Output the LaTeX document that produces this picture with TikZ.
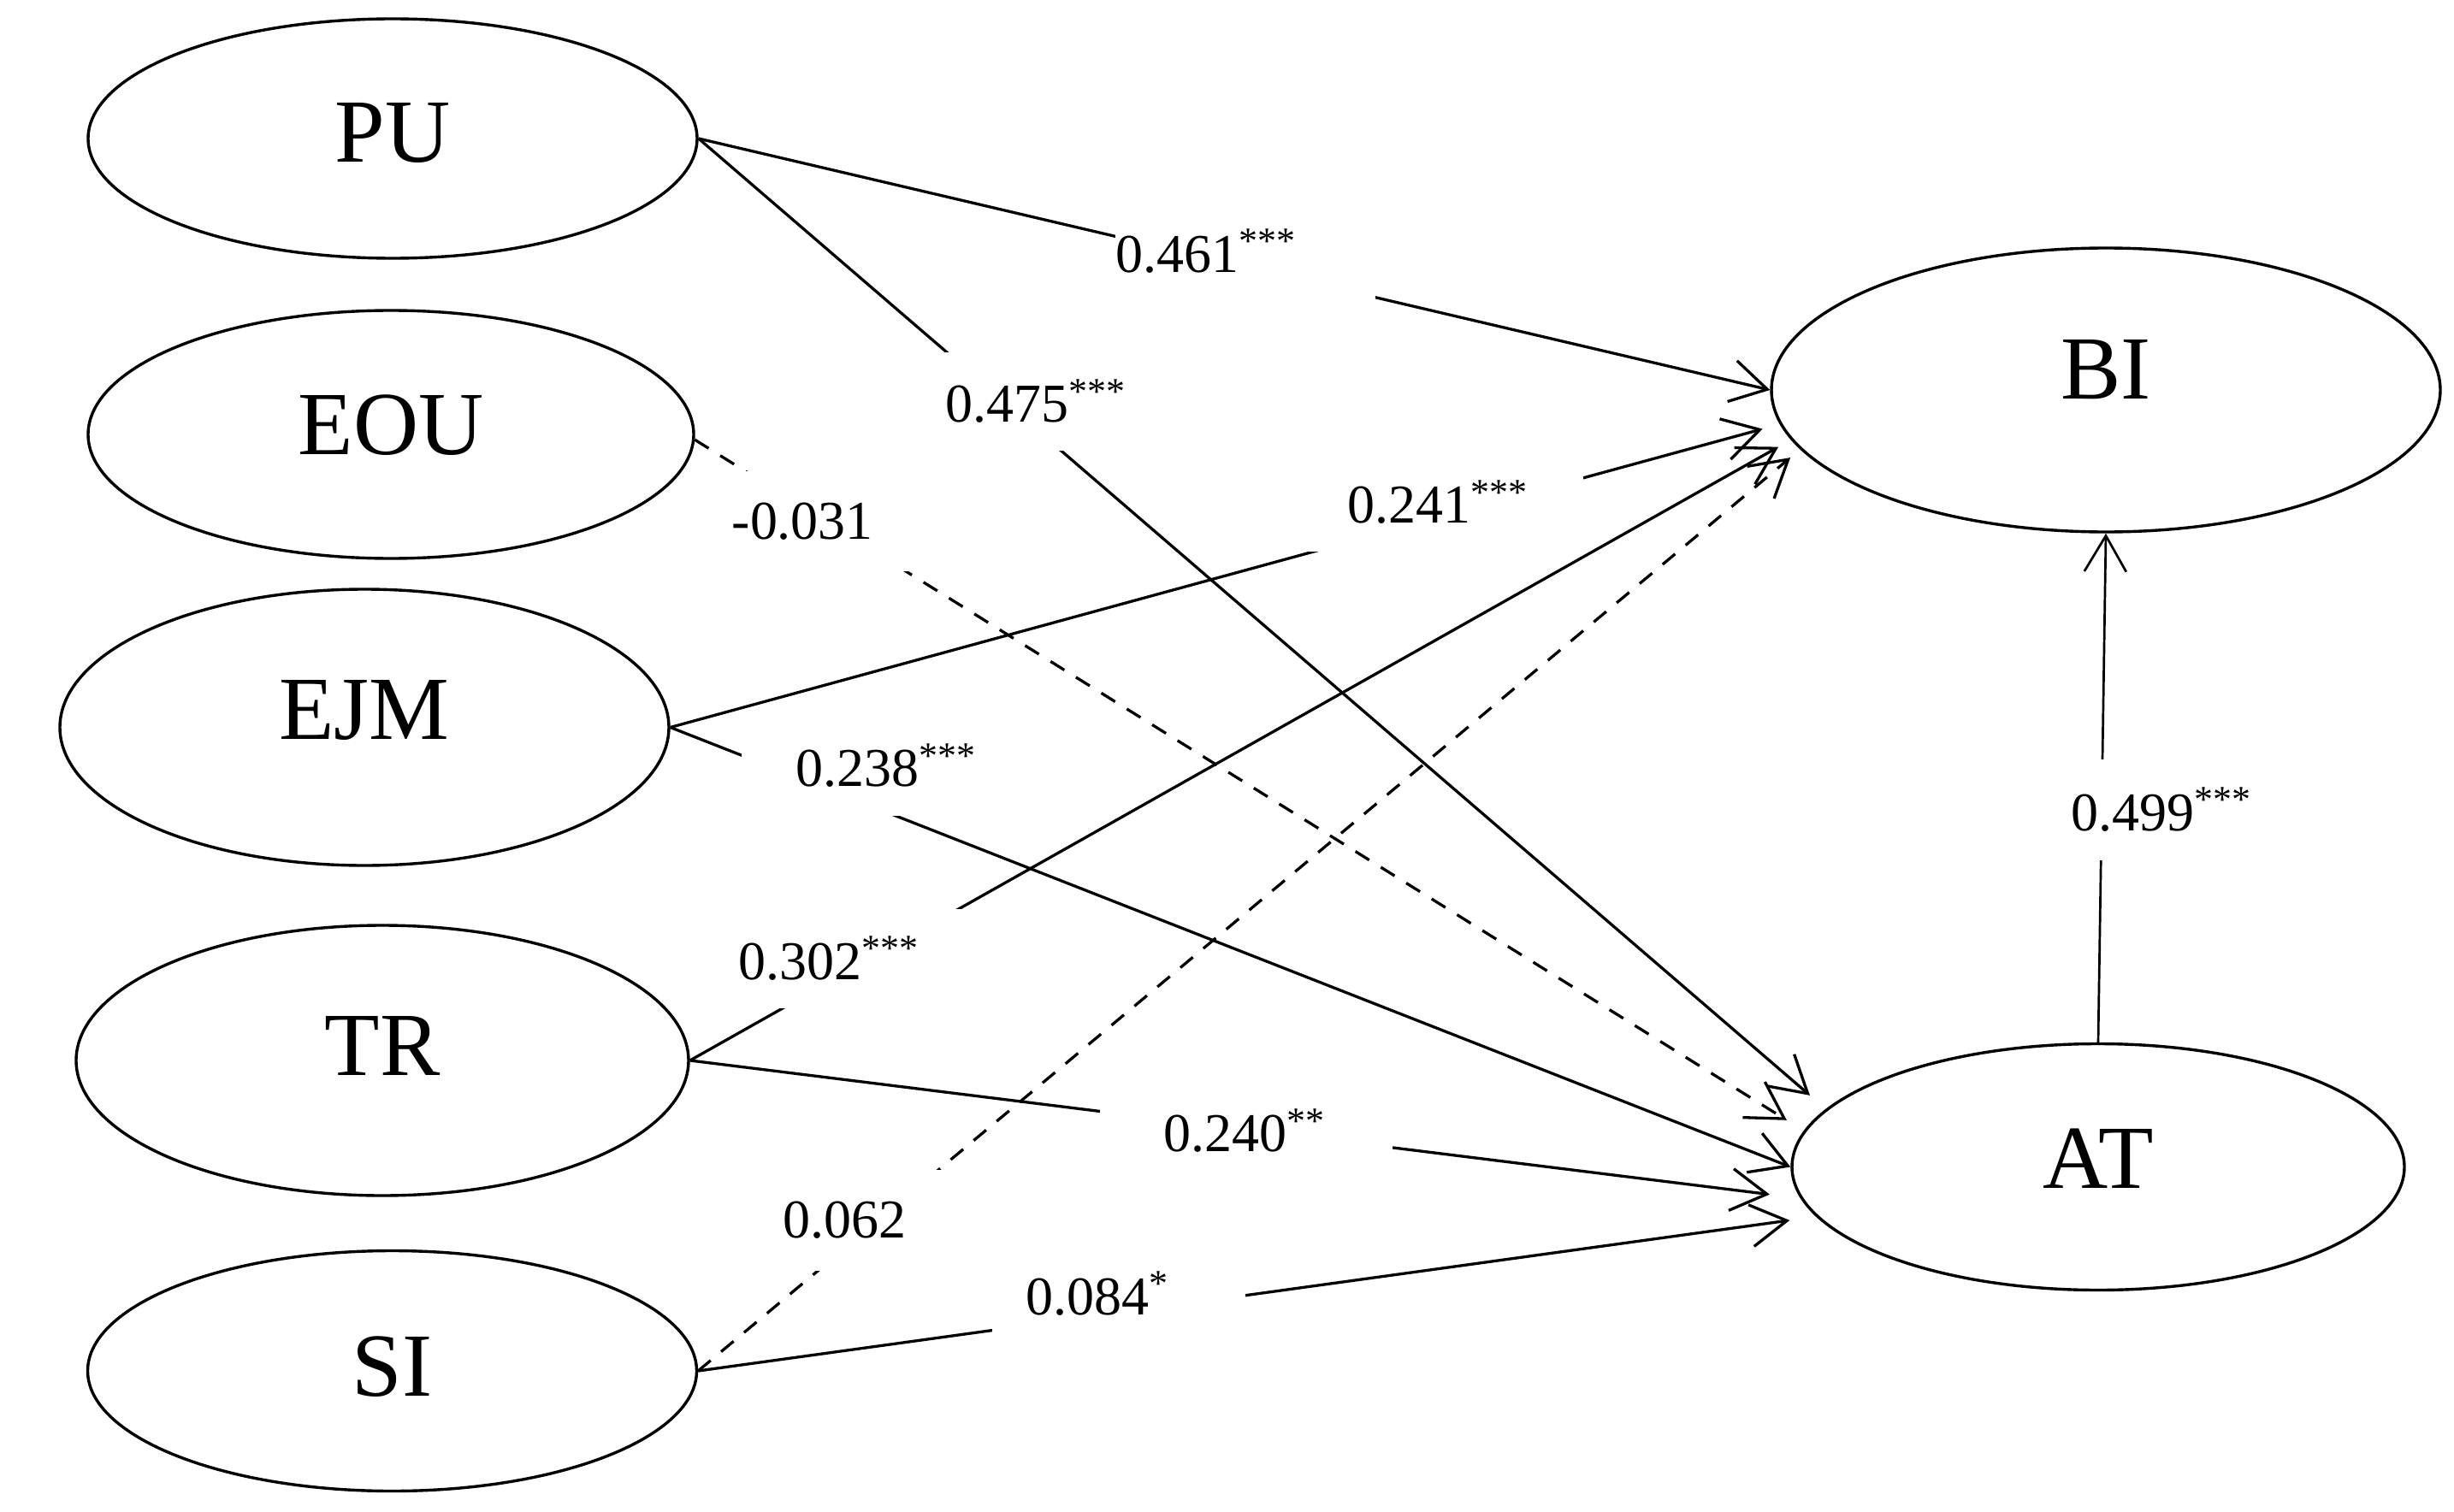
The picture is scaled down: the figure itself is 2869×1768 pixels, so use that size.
\documentclass[tikz,border=0pt]{standalone}
\usepackage{fontspec}
\setmainfont{Liberation Serif}
\usetikzlibrary{arrows.meta,shapes.geometric}
\newcommand\sg[1]{\raisebox{2.16mm}{\fontsize{12.5pt}{13pt}\selectfont #1}}
\newcommand\lb[3]{\makebox[#1][l]{\hspace*{#2}#3}}
\begin{document}
\begin{tikzpicture}[x=0.1mm,y=-0.1mm,
  var/.style={ellipse, draw, line width=0.34mm, inner sep=0pt,
    font=\fontsize{30pt}{36pt}\selectfont, text height=7mm},
  arr/.style={line width=0.33mm, -{Straight Barb[length=4.2mm,width=4.9mm]}},
  arrd/.style={arr, dash pattern=on 1.9mm off 1.6mm},
  lbl/.style={fill=white, inner sep=0pt, anchor=north west,
    font=\fontsize{18.2pt}{20pt}\selectfont}
]
\fill[white] (0,0) rectangle (2869,1768);
\useasboundingbox (0,0) rectangle (2869,1768);

% constructs
\node[var, minimum width=71.2mm, minimum height=28mm,   text depth=1.4mm] (PU)  at (459,162)    {PU};
\node[var, minimum width=70.8mm, minimum height=29mm,   text depth=2.3mm] (EOU) at (457,508)    {EOU};
\node[var, minimum width=71.2mm, minimum height=32.3mm, text depth=4.2mm] (EJM) at (426,850.5)  {EJM};
\node[var, minimum width=71.6mm, minimum height=31.6mm, text depth=3.6mm] (TR)  at (447,1240)   {TR};
\node[var, minimum width=71.2mm, minimum height=28.1mm, text depth=1.2mm] (SI)  at (458.5,1603) {SI};
\node[var, minimum width=78.2mm, minimum height=33.2mm, text depth=4.9mm] (BI)  at (2462,456)   {BI};
\node[var, minimum width=71.6mm, minimum height=28.8mm, text depth=2.0mm] (AT)  at (2453,1364.5){AT};

% paths
\draw[arr] (PU.east) -- (BI.west);
\draw[arr, shorten >=2.45mm] (PU.east) -- (AT.168.3);
\draw[arrd, shorten >=2.35mm] (EOU.-1.5) -- (AT.173);
\draw[arr, shorten >=2.08mm] (EJM.east) -- (BI.-174.7);
\draw[arr] (EJM.east) -- (AT.west);
\draw[arr, shorten >=1.69mm] (TR.east) -- (BI.-171.4);
\draw[arr, shorten >=3.62mm] (TR.east) -- (AT.-174.9);
\draw[arrd, shorten >=1.5mm] (SI.east) -- (BI.-169.6);
\draw[arr, shorten >=3.12mm] (SI.east) -- (AT.-170.1);
\draw[arr, line width=0.27mm] (AT.north) -- (BI.south);

% coefficient labels
\node[lbl, minimum height=16.2mm] (l461) at (1303,212)   {\lb{30.4mm}{0.1mm}{0.461\sg{***}}};
\node[lbl, minimum height=11.5mm] (l475) at (1060.5,411) {\lb{30.1mm}{4.4mm}{0.475\sg{***}}};
\node[lbl, minimum height=11.7mm] (l031) at (853,550)    {\lb{34.1mm}{0.2mm}{-0.031}};
\node[lbl, minimum height=11.5mm] (l241) at (1518,529)   {\lb{33.2mm}{5.7mm}{0.241\sg{***}}};
\node[lbl, minimum height=11.7mm] (l238) at (866.5,836)  {\lb{34.15mm}{6.3mm}{0.238\sg{***}}};
\node[lbl, minimum height=11.6mm] (l302) at (797.6,1062) {\lb{34.1mm}{6.5mm}{0.302\sg{***}}};
\node[lbl, minimum height=11.5mm] (l240) at (1285.5,1264){\lb{34.15mm}{7.45mm}{0.240\sg{**}}};
\node[lbl, minimum height=11.8mm] (l062) at (820.5,1367) {\lb{33.85mm}{9.45mm}{0.062}};
\node[lbl, minimum height=11.2mm] (l084) at (1159,1456)  {\lb{29.6mm}{4.0mm}{0.084\sg{*}}};
\node[lbl, minimum height=11.8mm] (l499) at (2420,887)   {\lb{34.0mm}{0.1mm}{0.499\sg{***}}};
\end{tikzpicture}
\end{document}
